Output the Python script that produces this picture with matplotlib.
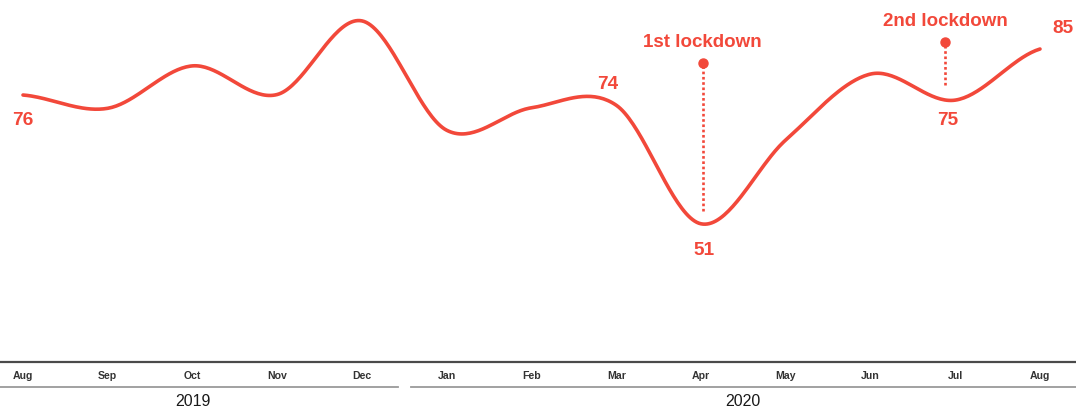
import numpy as np
import matplotlib
matplotlib.use("Agg")
import matplotlib.pyplot as plt

# ---- data ----
months = ["Aug", "Sep", "Oct", "Nov", "Dec", "Jan", "Feb", "Mar", "Apr", "May", "Jun", "Jul", "Aug"]
values = [76, 73.4, 81.7, 76.1, 90.5, 69.1, 73.5, 74, 50.8, 67.2, 80.1, 75, 85]
years = ["2019", "2020"]
year_spans = [(0, 4), (5, 12)]
labelled = [0, 7, 8, 11, 12]  # indices with value labels
events = ["1st lockdown", "2nd lockdown"]
event_x = [8.02, 10.88]
event_top = [82.3, 86.4]
event_bottom = [53.3, 78.0]

RED = "#F2483A"
FONT = "Liberation Sans"

W, H = 1076, 408
fig = plt.figure(figsize=(W / 100, H / 100), dpi=100)

x0_px, step_px = 23, 84.75
xlim = (-x0_px / step_px, (W - x0_px) / step_px)

axis_px = 362
ax = fig.add_axes([0, (H - axis_px) / H, 1, axis_px / H])
ax.set_xlim(*xlim)
ax.set_ylim(23.76, 94.59)
ax.axis("off")

# Cardinal (Catmull-Rom) spline through the points
xs = np.arange(len(values), dtype=float)
ys = np.array(values, dtype=float)
n = len(ys)
m = np.zeros(n)
for i in range(n):
    a = ys[max(i - 1, 0)]
    b = ys[min(i + 1, n - 1)]
    m[i] = (b - a) / 2.0
cx, cy = [], []
for i in range(n - 1):
    t = np.linspace(0, 1, 40, endpoint=(i == n - 2))
    h00 = 2 * t**3 - 3 * t**2 + 1
    h10 = t**3 - 2 * t**2 + t
    h01 = -2 * t**3 + 3 * t**2
    h11 = t**3 - t**2
    cx.append(xs[i] + t)
    cy.append(h00 * ys[i] + h10 * m[i] + h01 * ys[i + 1] + h11 * m[i + 1])
cx = np.concatenate(cx)
cy = np.concatenate(cy)
ax.plot(cx, cy, color=RED, lw=2.6, solid_capstyle="round", clip_on=False)

# value labels
offsets = {0: (0, -25), 7: (-9, 21), 8: (3, -27), 11: (-8, -20), 12: (23, 21)}
for i in labelled:
    ax.annotate(f"{values[i]:.0f}", xy=(i, values[i]), xytext=offsets[i],
                textcoords="offset pixels", ha="center", va="center",
                color=RED, fontsize=13.7, fontweight="bold", family=FONT,
                annotation_clip=False)

# lockdown events
for name, ex, top, bot in zip(events, event_x, event_top, event_bottom):
    ax.plot([ex, ex], [bot, top], color=RED, lw=1.9, ls=(0, (1, 1)), clip_on=False)
    ax.plot([ex], [top], "o", color=RED, ms=6.5, clip_on=False)
    ax.annotate(name, xy=(ex, top), xytext=(0, 20), textcoords="offset pixels",
                ha="center", va="center", color=RED, fontsize=13.5,
                fontweight="bold", family=FONT, annotation_clip=False)

# bottom strip: axis line, months, year brackets
bx = fig.add_axes([0, 0, 1, (H - axis_px) / H])
bx.set_xlim(*xlim)
bx.set_ylim(H - axis_px, 0)
bx.axis("off")
bx.plot(xlim, [0, 0], color="#4a4a4a", lw=1.6, clip_on=False)
for i, mname in enumerate(months):
    bx.text(i, 14, mname, ha="center", va="center", fontsize=7.6,
            fontweight="bold", color="#333333", family=FONT)
gap = 0.08
for yname, (s, e) in zip(years, year_spans):
    left = s - 0.5 + gap if s > 0 else xlim[0]
    right = e + 0.5 - gap if e < len(months) - 1 else xlim[1]
    bx.plot([left, right], [25, 25], color="#9a9a9a", lw=1.3, clip_on=False)
    bx.text((s + e) / 2, 40, yname, ha="center", va="center", fontsize=11.5,
            color="#1a1a1a", family=FONT)

fig.savefig("out.png", dpi=100)
